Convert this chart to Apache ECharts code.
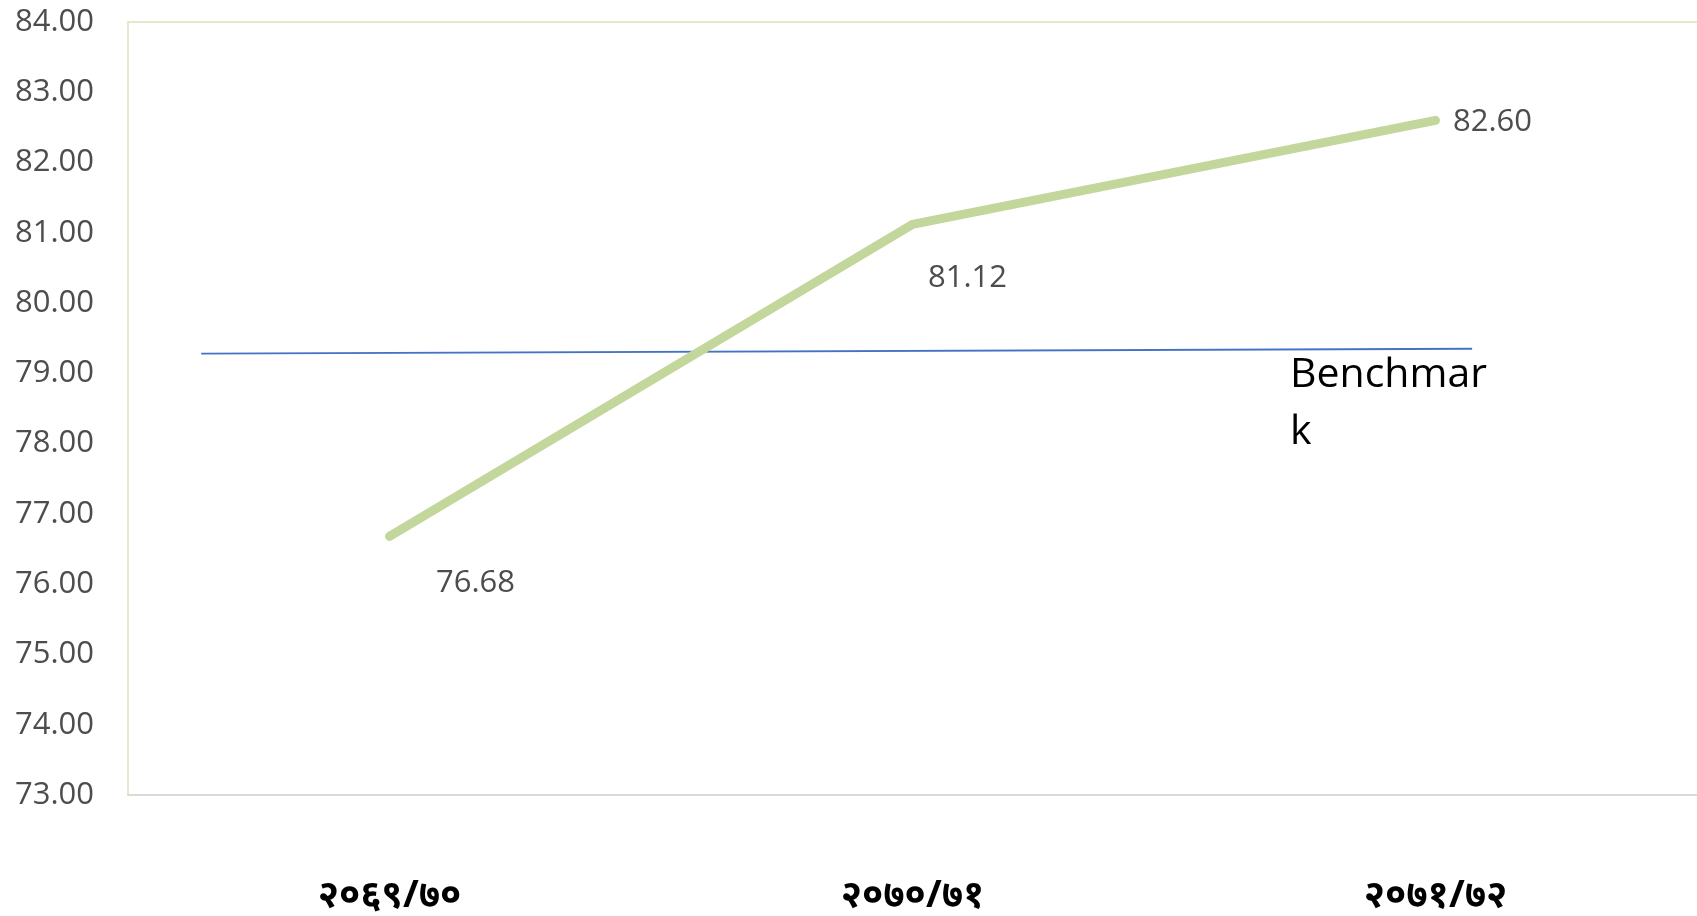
<!DOCTYPE html>
<html>
<head>
<meta charset="utf-8">
<script src="https://cdn.jsdelivr.net/npm/echarts@6/dist/echarts.min.js"></script>
<style>
html,body{margin:0;padding:0;background:#fff;overflow:hidden;}
#chart{width:1697px;height:916px;}
</style>
</head>
<body>
<div id="chart"></div>
<script>
const categories = ['२०६९/७०', '२०७०/७१', '२०७१/७२'];
const values = [76.68, 81.12, 82.60];
const yTicks = [73, 74, 75, 76, 77, 78, 79, 80, 81, 82, 83, 84];
// benchmark line: [position along category axis, value]
const benchmarkX = [-0.36, 2.07];
const benchmarkY = [79.28, 79.35];
const benchmarkLabel = 'Benchmar\nk';

const chart = echarts.init(document.getElementById('chart'));
const labelOffsets = [[86, 47], [55, 54], [57, 2]];
chart.setOption({
  animation: false,
  backgroundColor: '#fff',
  grid: {left: 128, right: -20, top: 22, bottom: 121, show: false, containLabel: false},
  xAxis: [{
    type: 'category', data: categories, boundaryGap: true, position: 'bottom',
    axisLine: {show: true, onZero: false, lineStyle: {color: '#d9d9d9', width: 2}},
    axisTick: {show: false},
    axisLabel: {margin: 82, color: '#000', fontSize: 38, fontWeight: 'bold', fontFamily: 'Noto Sans, sans-serif'}
  }, {
    type: 'value', min: -0.5, max: 2.5, position: 'top',
    axisLine: {show: true, onZero: false, lineStyle: {color: '#d8e4bc', width: 1.5}},
    axisTick: {show: false}, axisLabel: {show: false}, splitLine: {show: false}
  }],
  yAxis: {
    type: 'value', min: yTicks[0], max: yTicks[yTicks.length - 1], interval: 1,
    axisLine: {show: true, onZero: false, lineStyle: {color: '#d8e4bc', width: 1.5}}, axisTick: {show: false}, splitLine: {show: false},
    axisLabel: {margin: 34, color: '#4d4d4d', fontSize: 31, fontWeight: 500, fontFamily: 'Open Sans', formatter: v => v.toFixed(2)}
  },
  series: [{
    type: 'line', xAxisIndex: 0,
    data: values.map((v, i) => ({value: v, label: {offset: labelOffsets[i]}})),
    symbol: 'circle', symbolSize: 1, showSymbol: true,
    itemStyle: {color: 'rgba(0,0,0,0)'},
    lineStyle: {color: '#c3d69b', width: 9, cap: 'round', join: 'round'},
    label: {show: true, position: 'inside', color: '#4d4d4d', fontSize: 31, fontFamily: 'Open Sans', formatter: p => p.value.toFixed(2)},
    z: 3
  }, {
    type: 'line', xAxisIndex: 1,
    data: benchmarkX.map((x, i) => [x, benchmarkY[i]]),
    symbol: 'none',
    lineStyle: {color: '#4472c4', width: 1.8},
    z: 2
  }],
  graphic: [{
    type: 'text', left: 1290, top: 347,
    style: {text: benchmarkLabel, font: '41px "Open Sans"', fill: '#000', lineHeight: 57}
  }]
});
</script>
</body>
</html>
